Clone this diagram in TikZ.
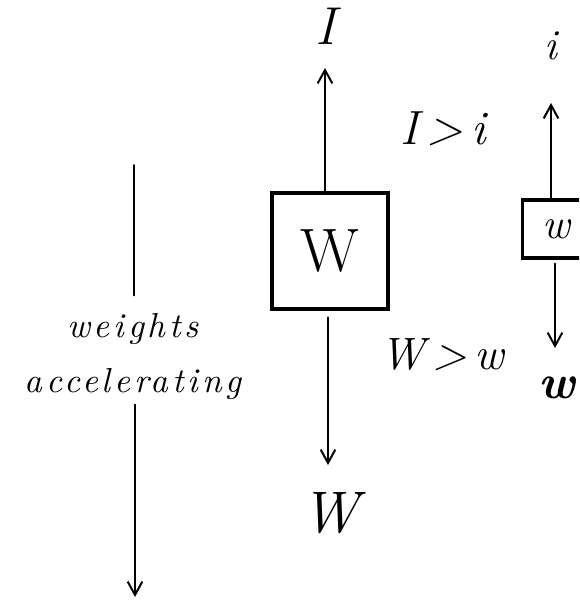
\documentclass[tikz,border=0pt]{standalone}
\usepackage{fontspec}
\newfontfamily\spacedfont[LetterSpace=11]{lmroman10-italic.otf}
\usetikzlibrary{arrows.meta}

\tikzset{every picture/.style={line width=0.75pt}}
\tikzset{
  boxnode/.style={draw, line width=2.4pt, inner sep=0pt},
  arr/.style={line width=1.5pt, line cap=round, -{Straight Barb[length=10pt,width=11pt,line width=1.5pt]}},
  plainline/.style={line width=1.5pt, line cap=round},
  hand/.style={font=\itshape\fontsize{#1}{#1}\selectfont, inner sep=0.75pt},
  handbold/.style={font=\bfseries\itshape\fontsize{#1}{#1}\selectfont, inner sep=0.75pt},
  handwide/.style={font=\spacedfont\fontsize{#1}{#1}\selectfont, inner sep=0.75pt},
}

\begin{document}
\begin{tikzpicture}[x=0.75pt,y=0.75pt,yscale=-1,xscale=1]
\clip (0,0) rectangle (579,600);

%Boxes
\node [boxnode, minimum width=87pt, minimum height=87pt, font=\fontsize{46}{46}\selectfont] (Wbox) at (330,251) {W};
\node [boxnode, minimum width=50pt, minimum height=43.5pt, hand=32] (wbox) at (556,229) {w};

%Free ends of the arrows
\coordinate (Itip) at (325,68);
\coordinate (Wtip) at (328,465);
\coordinate (itip) at (551,103);
\coordinate (wtip) at (555,348);
\coordinate (ltop) at (134,165);
\coordinate (ltip) at (135,597);

% Text Node
\node [hand=40] (Ilbl) at (326,26) {I};
% Text Node
\node [hand=32] (ilbl) at (551,46) {i};
% Text Node
\node [hand=36] (Igti) at (443,129) {I\,>\,i};
% Text Node
\node [hand=34] (Wgtw) at (442,355) {W\,>\,w};
% Text Node
\node [hand=44] (Wlbl) at (330,513) {W};
% Text Node
\node [handbold=36] (wlbl) at (557,388) {w};
% Text Node
\node [handwide=26, anchor=base] (weights) at (133,337) {weights};
% Text Node
\node [handwide=26, anchor=base] (accel) at (133,392) {accelerating};

%Straight Lines
\draw [arr] (Wbox.north -| Itip) -- (Itip);
\draw [arr, shorten <=5pt] (Wbox.south -| Wtip) -- (Wtip);
\draw [arr] (wbox.north -| itip) -- (itip);
\draw [arr, shorten <=3pt] (wbox.south -| wtip) -- (wtip);
\draw [plainline, shorten >=12pt] (ltop) -- (weights.north -| ltop);
\draw [arr, shorten <=3pt] (accel.south -| ltip) -- (ltip);

\end{tikzpicture}
\end{document}
